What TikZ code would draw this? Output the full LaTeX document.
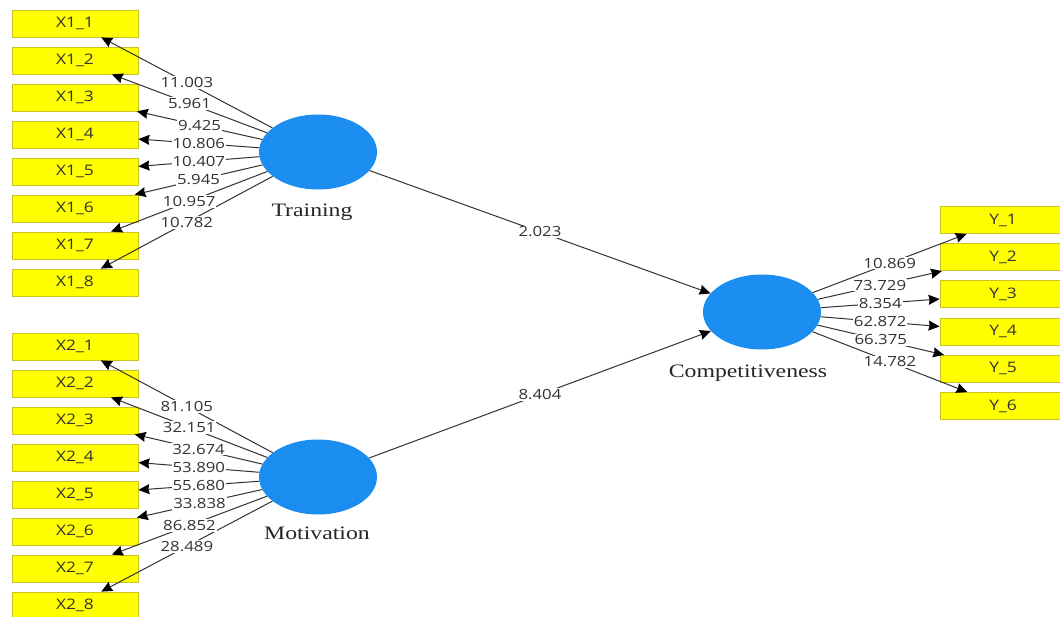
\documentclass[tikz,border=0pt]{standalone}
\usepackage{fontspec}
\usetikzlibrary{shapes.geometric,arrows.meta}
\newfontfamily\numfont[FakeStretch=1.2]{Open Sans}
\newfontfamily\latfont[FakeStretch=1.25]{Liberation Serif}
\definecolor{lvblue}{RGB}{28,141,240}
\definecolor{mvyellow}{RGB}{255,255,0}
\definecolor{mvedge}{RGB}{200,195,40}
\definecolor{lncol}{RGB}{50,50,50}
\definecolor{txtcol}{RGB}{50,50,50}
\begin{document}
\begin{tikzpicture}[x=1pt,y=-1pt,
  mv/.style={rectangle,draw=mvedge,line width=0.8pt,fill=mvyellow,minimum width=126pt,minimum height=27pt,inner sep=0pt,
    font=\numfont\fontsize{14.5}{16}\selectfont,text=txtcol},
  lv/.style={ellipse,fill=lvblue,minimum width=118pt,minimum height=75pt,inner sep=0pt},
  lvlbl/.style={font=\latfont\fontsize{19}{21}\selectfont,text=black!85},
  arr/.style={draw=lncol,line width=1pt,-{Stealth[length=11pt,width=10pt,inset=1pt,color=black]}},
  lbl/.style={midway,fill=white,inner sep=1pt,font=\numfont\fontsize{14}{16}\selectfont,text=txtcol}]
\useasboundingbox (0,0) rectangle (1060,617);
\fill[white] (0,0) rectangle (1060,617);
\clip (0,0) rectangle (1060,617);

% latent variables
\node[lv] (T) at (318,152) {};
\node[lv] (M) at (318,477) {};
\node[lv] (C) at (762,312) {};
\node[lvlbl] (Tl) at (312,212) {Training};
\node[lvlbl] (Ml) at (317,533) {Motivation};
\node[lvlbl] (Cl) at (748,373) {Competitiveness};

% indicators
\foreach \i in {1,...,8} {
  \node[mv] (X1\i) at (75,{23.5+37*(\i-1)}) {X1\_\i};
  \node[mv] (X2\i) at (75,{346.5+37*(\i-1)}) {X2\_\i};
}
\foreach \i in {1,...,6} {
  \node[mv] (Y\i) at (1003,{220+37.2*(\i-1)}) {Y\_\i};
}

% connectors
\foreach \i in {1,...,8} {
  \draw[arr] (T) -- (X1\i);
  \draw[arr] (M) -- (X2\i);
}
\foreach \i in {1,...,6} {
  \draw[arr] (C) -- (Y\i);
}
\draw[arr] (T) -- (C);
\draw[arr] (M) -- (C);

% labels (drawn over all lines)
\foreach \i/\v in {1/11.003,2/5.961,3/9.425,4/10.806,5/10.407,6/5.945,7/10.957,8/10.782} {
  \path (T) -- (X1\i) node[lbl] {\v};
}
\foreach \i/\v in {1/81.105,2/32.151,3/32.674,4/53.890,5/55.680,6/33.838,7/86.852,8/28.489} {
  \path (M) -- (X2\i) node[lbl] {\v};
}
\foreach \i/\v in {1/10.869,2/73.729,3/8.354,4/62.872,5/66.375,6/14.782} {
  \path (C) -- (Y\i) node[lbl] {\v};
}
\path (T) -- (C) node[lbl] {2.023};
\path (M) -- (C) node[lbl] {8.404};
\end{tikzpicture}
\end{document}
